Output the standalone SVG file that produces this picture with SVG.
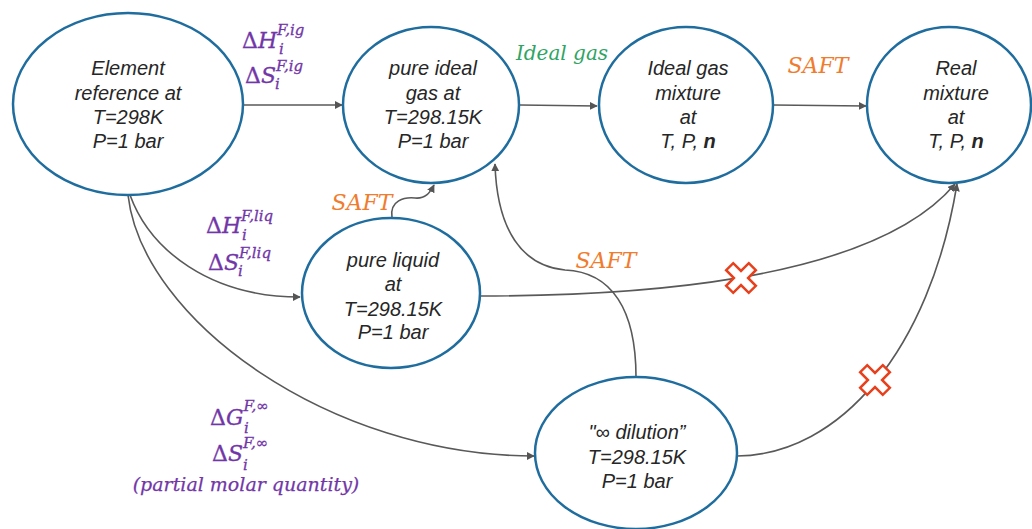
<svg xmlns="http://www.w3.org/2000/svg" width="1032" height="529" viewBox="0 0 1032 529">
<defs>
<marker id="arr" viewBox="0 0 10 10" refX="9" refY="5" markerWidth="8" markerHeight="8" markerUnits="userSpaceOnUse" orient="auto">
<path d="M0,0 L10,5 L0,10 z" fill="#555"/>
</marker>
<polygon id="xmark" points="-5,-16 5,-16 5,-5 16,-5 16,5 5,5 5,16 -5,16 -5,5 -16,5 -16,-5 -5,-5" transform="rotate(45)"/>
</defs>
<style>
.node{fill:#fff;stroke:#1f6d9e;stroke-width:2.5}
.lbl{font-family:"Liberation Sans",Arial,sans-serif;font-style:italic;font-size:20px;fill:#262626;text-anchor:middle}
.edge{fill:none;stroke:#595959;stroke-width:1.6}
.math{font-family:"DejaVu Serif",serif;fill:#7236a8;font-size:22px;stroke:#7236a8;stroke-width:0.3}
.it{font-style:italic}
.sm{font-style:italic;font-size:15px}
.note{font-family:"DejaVu Serif",serif;font-style:italic;font-size:19px;fill:#7236a8;stroke:#7236a8;stroke-width:0.25}
.saft{font-family:"DejaVu Serif",serif;font-style:italic;font-size:22px;fill:#f07c2e}
.xm{fill:#fff;stroke:#e8401c;stroke-width:2.5}
</style>
<rect width="1032" height="529" fill="#fff"/>
<g id="connectors">
<line class="edge" x1="243" y1="105" x2="342" y2="105" marker-end="url(#arr)"/>
<line class="edge" x1="520" y1="105" x2="597" y2="106" marker-end="url(#arr)"/>
<line class="edge" x1="773" y1="105" x2="866" y2="106" marker-end="url(#arr)"/>
<path class="edge" d="M130,195 C150,250 210,297 300,297" marker-end="url(#arr)"/>
<path class="edge" d="M128,195 C142,320 330,456 534,456" marker-end="url(#arr)"/>
<path class="edge" d="M392,218 C389,200 405,197 415,198 C425,199 430,193 434,185" marker-end="url(#arr)"/>
<path class="edge" d="M636,377 C636,310 612,272 565,270 C522,266 497,230 495,164" marker-end="url(#arr)"/>
<path class="edge" d="M480,296 C620,296 870,285 955,184" marker-end="url(#arr)"/>
<path class="edge" d="M737,456 C840,455 930,350 957,184" marker-end="url(#arr)"/>
</g>
<g id="n1"><ellipse class="node" cx="128" cy="104" rx="115" ry="91"/>
<text class="lbl" x="128" y="75">Element</text><text class="lbl" x="128" y="100">reference at</text><text class="lbl" x="128" y="124">T=298K</text><text class="lbl" x="128" y="148">P=1 bar</text></g>
<g id="n2"><ellipse class="node" cx="431" cy="105" rx="88" ry="78"/>
<text class="lbl" x="433" y="75">pure ideal</text><text class="lbl" x="433" y="100">gas at</text><text class="lbl" x="433" y="124">T=298.15K</text><text class="lbl" x="433" y="148">P=1 bar</text></g>
<g id="n3"><ellipse class="node" cx="686" cy="105" rx="87" ry="78"/>
<text class="lbl" x="688" y="75">Ideal gas</text><text class="lbl" x="688" y="100">mixture</text><text class="lbl" x="688" y="124">at</text><text class="lbl" x="688" y="148">T, P, <tspan font-weight="bold">n</tspan></text></g>
<g id="n4"><ellipse class="node" cx="949" cy="105" rx="82" ry="78"/>
<text class="lbl" x="956" y="75">Real</text><text class="lbl" x="956" y="100">mixture</text><text class="lbl" x="956" y="124">at</text><text class="lbl" x="956" y="148">T, P, <tspan font-weight="bold">n</tspan></text></g>
<g id="n5"><ellipse class="node" cx="391" cy="293" rx="89" ry="75"/>
<text class="lbl" x="393" y="267">pure liquid</text><text class="lbl" x="393" y="291">at</text><text class="lbl" x="393" y="316">T=298.15K</text><text class="lbl" x="393" y="339">P=1 bar</text></g>
<g id="n6"><ellipse class="node" cx="636" cy="453" rx="101" ry="76"/>
<text class="lbl" x="637" y="439">"∞ dilution”</text><text class="lbl" x="637" y="464">T=298.15K</text><text class="lbl" x="637" y="488">P=1 bar</text></g>
<g id="labels">
<text class="math" x="242" y="48">Δ<tspan class="it">H</tspan><tspan class="sm" dy="-13">F,ig</tspan><tspan class="sm" x="279" y="54">i</tspan></text>
<text class="math" x="245" y="83">Δ<tspan class="it">S</tspan><tspan class="sm" dy="-12">F,ig</tspan><tspan class="sm" x="275" y="89">i</tspan></text>
<text class="math" x="206" y="233">Δ<tspan class="it">H</tspan><tspan class="sm" dy="-12">F,liq</tspan><tspan class="sm" x="242" y="240">i</tspan></text>
<text class="math" x="208" y="270">Δ<tspan class="it">S</tspan><tspan class="sm" dy="-12">F,liq</tspan><tspan class="sm" x="238" y="276">i</tspan></text>
<text class="math" x="210" y="425">Δ<tspan class="it">G</tspan><tspan class="sm" dy="-14">F,∞</tspan><tspan class="sm" x="244" y="433">i</tspan></text>
<text class="math" x="212" y="461">Δ<tspan class="it">S</tspan><tspan class="sm" dy="-13">F,∞</tspan><tspan class="sm" x="243" y="470">i</tspan></text>
<text class="note" x="246" y="491" text-anchor="middle">(partial molar quantity)</text>
<text x="562" y="60" font-family="DejaVu Serif,serif" font-style="italic" font-size="20" fill="#2fa463" text-anchor="middle">Ideal gas</text>
<text class="saft" x="818" y="73" text-anchor="middle">SAFT</text>
<text class="saft" x="362" y="210" text-anchor="middle">SAFT</text>
<text class="saft" x="606" y="268" text-anchor="middle">SAFT</text>
</g>
<g id="marks">
<use href="#xmark" class="xm" x="741" y="278"/>
<use href="#xmark" class="xm" x="875" y="380"/>
</g>
</svg>
